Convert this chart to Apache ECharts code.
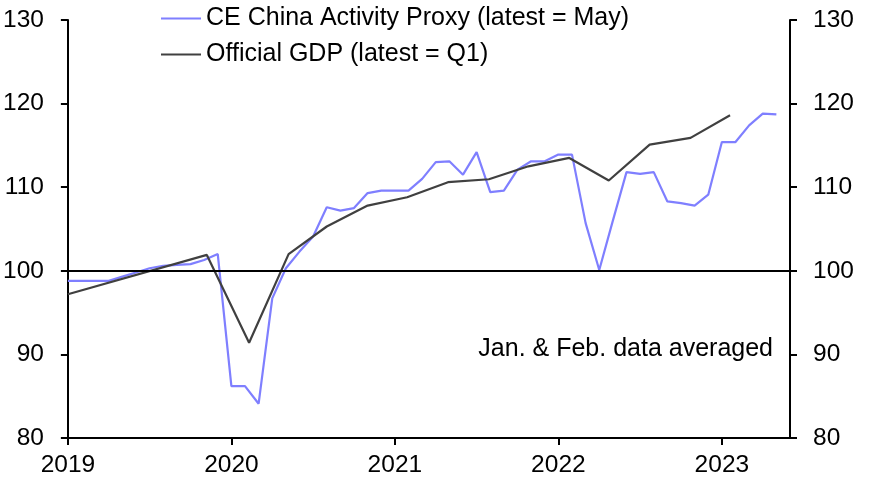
<!DOCTYPE html>
<html>
<head>
<meta charset="utf-8">
<script src="https://cdn.jsdelivr.net/npm/echarts@6/dist/echarts.min.js"></script>
<style>
html,body{margin:0;padding:0;background:#fff;}
#chart{width:873px;height:482px;}
</style>
</head>
<body>
<div id="chart"></div>
<script>
// Month index 0 = Jan 2019
var proxyValues = [
  98.8, 98.8, 98.8, 98.8, 99.3, 99.8, 100.3, 100.6, 100.7, 100.8, 101.3, 102.0,
  86.2, 86.2, 84.1, 96.7, 100.3, 102.3, 104.1, 107.6, 107.2, 107.5, 109.3, 109.6,
  109.6, 109.6, 111.0, 113.0, 113.1, 111.5, 114.2, 109.4, 109.6, 112.1, 113.1, 113.1,
  113.9, 113.9, 105.7, 100.1, 106.0, 111.8, 111.6, 111.8, 108.3, 108.1, 107.8, 109.1,
  115.4, 115.4, 117.4, 118.8, 118.7
];
var gdpMonths = [0, 10.2, 13.3, 16.2, 19.0, 22.0, 24.9, 27.9, 30.9, 33.8, 36.8, 39.7, 42.7, 45.7, 48.6];
var gdpValues = [97.2, 101.9, 91.4, 102.0, 105.3, 107.8, 108.8, 110.6, 110.95, 112.5, 113.5, 110.8, 115.1, 115.9, 118.6];
var yearTicks = [0, 12, 24, 36, 48];
var yearLabels = ['2019', '2020', '2021', '2022', '2023'];
var seriesNames = ['CE China Activity Proxy (latest = May)', 'Official GDP (latest = Q1)'];
var noteText = 'Jan. & Feb. data averaged';

var FONT = '"Liberation Sans", Arial, sans-serif';
var chart = echarts.init(document.getElementById('chart'), null, {renderer: 'canvas'});

var proxyData = proxyValues.map(function (v, i) { return [i, v]; });
var gdpData = gdpMonths.map(function (m, i) { return [m, gdpValues[i]]; });

function yAxis(pos) {
  return {
    type: 'value', position: pos, min: 80, max: 130, interval: 10,
    axisLine: {show: true, lineStyle: {color: '#000', width: 2}},
    axisTick: {show: true, length: 7, lineStyle: {color: '#000', width: 2}},
    axisLabel: {color: '#000', fontSize: 24.5, fontFamily: FONT, margin: pos === 'left' ? 24 : 23},
    splitLine: {show: false}
  };
}

chart.setOption({
  animation: false,
  backgroundColor: '#fff',
  textStyle: {fontFamily: FONT},
  grid: {left: 67, right: 83, top: 20, bottom: 44},
  legend: {
    orient: 'vertical', left: 156, top: 1, icon: 'rect', itemWidth: 40, itemHeight: 2, itemGap: 11,
    textStyle: {fontSize: 25, color: '#000', fontFamily: FONT, lineHeight: 25},
    data: seriesNames
  },
  xAxis: {
    type: 'value', min: 0, max: 53,
    axisLine: {show: true, onZero: false, lineStyle: {color: '#000', width: 2}},
    axisTick: {show: true, length: 7, customValues: yearTicks, lineStyle: {color: '#000', width: 2}},
    axisLabel: {
      color: '#000', fontSize: 24.5, fontFamily: FONT, margin: 15, customValues: yearTicks,
      formatter: function (v) { var i = yearTicks.indexOf(Math.round(v)); return i >= 0 ? yearLabels[i] : ''; }
    },
    splitLine: {show: false}
  },
  yAxis: [yAxis('left'), yAxis('right')],
  series: [
    {
      name: seriesNames[0], type: 'line', data: proxyData, yAxisIndex: 0,
      symbol: 'none', lineStyle: {color: '#7f7fff', width: 2.2}, itemStyle: {color: '#7f7fff'},
      markLine: {
        silent: true, symbol: 'none', label: {show: false},
        lineStyle: {color: '#000', width: 2, type: 'solid'},
        data: [{yAxis: 100}]
      }
    },
    {
      name: seriesNames[1], type: 'line', data: gdpData, yAxisIndex: 0,
      symbol: 'none', lineStyle: {color: '#404040', width: 2.2}, itemStyle: {color: '#404040'}
    }
  ],
  graphic: [{
    type: 'text', right: 100, top: 337,
    style: {text: noteText, fill: '#000', font: '25px ' + FONT, textAlign: 'right'}
  }]
});
</script>
</body>
</html>
